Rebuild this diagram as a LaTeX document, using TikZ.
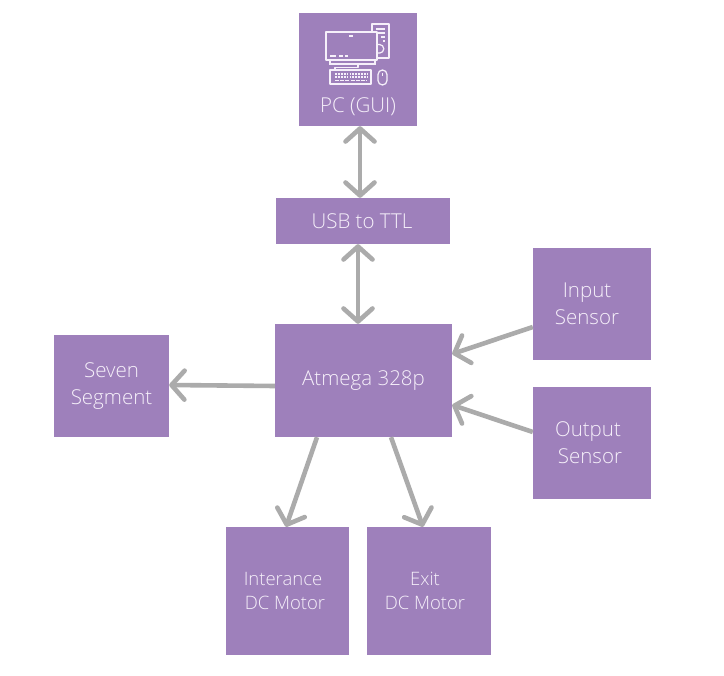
\documentclass[tikz,border=0pt]{standalone}
\usepackage{fontspec}
\setmainfont{Open Sans Light}
\usetikzlibrary{arrows.meta}
\definecolor{boxfill}{HTML}{9E80BB}
\definecolor{linkgray}{HTML}{ABABAB}
\definecolor{labelc}{HTML}{F6F0FA}
\tikzset{
  x=1pt,y=-1pt,
  box/.style={fill=boxfill,inner sep=0pt,text=labelc,align=center,font=\fontsize{20.5}{27}\selectfont},
  motor/.style={box,font=\fontsize{18.5}{23.5}\selectfont},
  barb/.tip={Straight Barb[length=13pt,width=29pt,line width=4.6pt,round]},
  link/.style={draw=linkgray,line width=4.6pt,-barb},
  bilink/.style={draw=linkgray,line width=4.6pt,barb-barb},
  icon/.style={draw=labelc,line width=1.25pt,line join=round}
}
\begin{document}
\begin{tikzpicture}
\useasboundingbox (0,0) rectangle (724,676);
\fill[white] (0,0) rectangle (724,676);
\node[box,minimum width=118pt,minimum height=113pt] (pc) at (358,69.5) {};
\node[box,minimum width=174pt,minimum height=46pt] (usb) at (363,221) {\raisebox{-2pt}{\hspace*{-2pt}USB to TTL}};
\node[box,minimum width=177pt,minimum height=113pt] (mcu) at (363.5,380.5) {Atmega 328p};
\node[box,minimum width=115pt,minimum height=102pt] (seven) at (111.5,386) {\raisebox{-1pt}{Seven}\\\raisebox{-1pt}{Segment}};
\node[box,minimum width=118pt,minimum height=112pt] (input) at (592,304) {\hspace*{-10pt}Input\\\hspace*{-10pt}Sensor};
\node[box,minimum width=118pt,minimum height=112pt] (output) at (592,443) {\hspace*{-8pt}Output\\\hspace*{-4pt}Sensor};
\node[motor,minimum width=123pt,minimum height=128pt] (inter) at (287.5,591) {\hspace*{-9pt}Interance\\\hspace*{-5pt}DC Motor};
\node[motor,minimum width=124pt,minimum height=128pt] (exit) at (429,591) {\hspace*{-8pt}Exit\\\hspace*{-8pt}DC Motor};
\node[text=labelc,inner sep=0pt,font=\fontsize{20.5}{24}\selectfont] (pclabel) at (358,107) {PC (GUI)};
% computer icon
\draw[icon] (372,32) -- (372,24) -- (389,24) -- (389,58) -- (377,58);
\draw[icon] (376,29) -- (385,29) (376,33) -- (385,33) (381,37) -- (385,37) (383,41) -- (385,41);
\draw[icon] (377,44.5) -- (379.5,44.5) arc[start angle=-90,end angle=90,radius=4.3] -- (377,53.1);
\draw[icon] (326,32) rectangle (377,60);
\draw[icon,line width=1.6pt] (349,36) -- (353,36);
\draw[icon,line width=1.6pt] (330,56) -- (336,56) (339,56) -- (343,56) (345,56) -- (348,56);
\draw[icon] (330,60) -- (330,64) (375,60) -- (375,64);
\draw[icon] (329,64) -- (376,64);
\draw[icon] (358,64) -- (358,67.5) -- (335,67.5) -- (335,70);
\draw[icon] (330,70) rectangle (371,84);
\draw[icon,dash pattern=on 1.8pt off 1.1pt] (335,74) -- (367,74);
\draw[icon,dash pattern=on 1.8pt off 1.1pt] (335,77) -- (367,77);
\draw[icon,dash pattern=on 4pt off 1.2pt] (335,80.5) -- (367,80.5);
\draw[icon] (378,74.5) arc[start angle=180,end angle=360,radius=4.5] -- (387,80.5) arc[start angle=0,end angle=180,radius=4.5] -- cycle;
\draw[icon] (382.5,73) -- (382.5,76);
% connectors
\draw[bilink] ([xshift=2pt]pc.south) -- ([xshift=-3pt]usb.north);
\draw[bilink] ([xshift=-5pt]usb.south) -- ([xshift=-5.5pt]mcu.north);
\draw[link] ([yshift=-5.5pt]mcu.west) -- ([yshift=1pt]seven.east);
\draw[link] ([yshift=-23pt]input.west) -- ([yshift=26.5pt]mcu.east);
\draw[link] ([yshift=11pt]output.west) -- ([yshift=-24.5pt]mcu.east);
\draw[link] ([xshift=-46.5pt]mcu.south) -- ([xshift=-1.5pt]inter.north);
\draw[link] ([xshift=27.5pt]mcu.south) -- ([xshift=-6pt]exit.north);
\end{tikzpicture}
\end{document}
